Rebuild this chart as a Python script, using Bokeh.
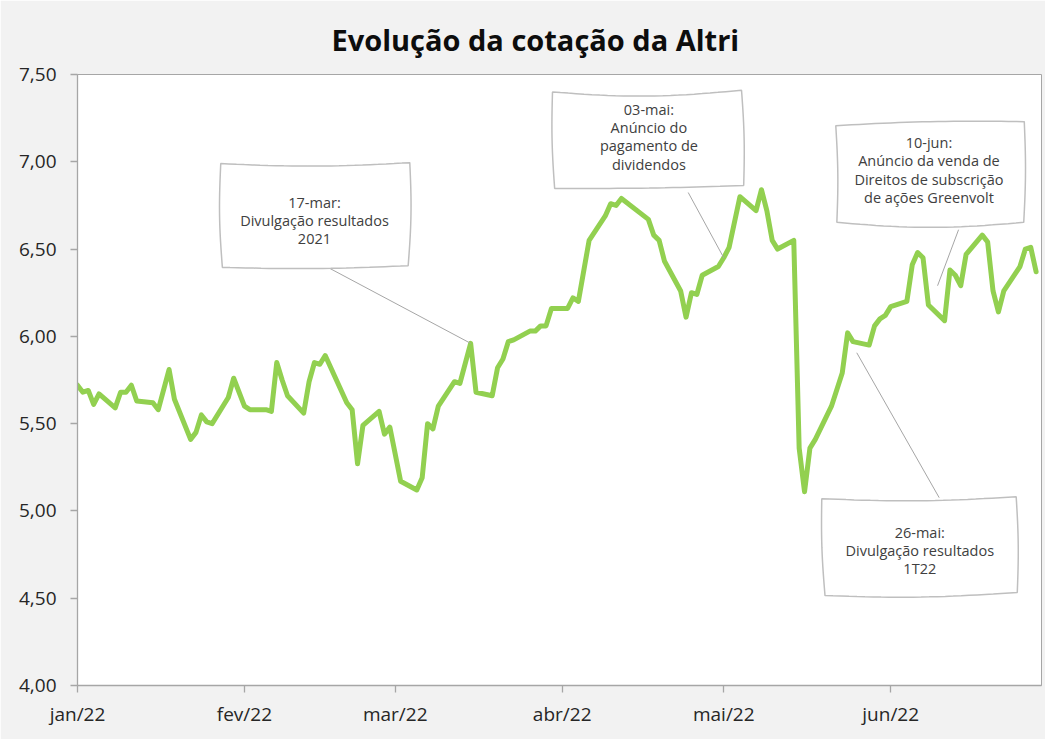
import datetime as dt
import math
import pandas as pd
from bokeh.plotting import figure
from bokeh.models import FixedTicker, CustomJSTickFormatter, Range1d, ColumnDataSource
from bokeh.embed import file_html
from bokeh.resources import INLINE
from bokeh.core.properties import value

# ---------------- data ----------------
dates = [
    "2022-01-03", "2022-01-04", "2022-01-05", "2022-01-06", "2022-01-07", "2022-01-10",
    "2022-01-11", "2022-01-12", "2022-01-13", "2022-01-14", "2022-01-17", "2022-01-18",
    "2022-01-20", "2022-01-21", "2022-01-24", "2022-01-25", "2022-01-26", "2022-01-27",
    "2022-01-28", "2022-01-31", "2022-02-01", "2022-02-03", "2022-02-04", "2022-02-07",
    "2022-02-08", "2022-02-09", "2022-02-10", "2022-02-11", "2022-02-14", "2022-02-15",
    "2022-02-16", "2022-02-17", "2022-02-18", "2022-02-22", "2022-02-23", "2022-02-24",
    "2022-02-25", "2022-02-28", "2022-03-01", "2022-03-02", "2022-03-04", "2022-03-07",
    "2022-03-08", "2022-03-09", "2022-03-10", "2022-03-11", "2022-03-14", "2022-03-15",
    "2022-03-17", "2022-03-18", "2022-03-21", "2022-03-22", "2022-03-23", "2022-03-24",
    "2022-03-25", "2022-03-28", "2022-03-29", "2022-03-30", "2022-03-31", "2022-04-01",
    "2022-04-04", "2022-04-05", "2022-04-06", "2022-04-08", "2022-04-11", "2022-04-12",
    "2022-04-13", "2022-04-14", "2022-04-19", "2022-04-20", "2022-04-21", "2022-04-22",
    "2022-04-25", "2022-04-26", "2022-04-27", "2022-04-28", "2022-04-29", "2022-05-02",
    "2022-05-03", "2022-05-04", "2022-05-06", "2022-05-09", "2022-05-10", "2022-05-11",
    "2022-05-12", "2022-05-13", "2022-05-16", "2022-05-17", "2022-05-18", "2022-05-19",
    "2022-05-20", "2022-05-23", "2022-05-25", "2022-05-26", "2022-05-27", "2022-05-30",
    "2022-05-31", "2022-06-01", "2022-06-02", "2022-06-03", "2022-06-06", "2022-06-07",
    "2022-06-08", "2022-06-09", "2022-06-10", "2022-06-13", "2022-06-14", "2022-06-15",
    "2022-06-16", "2022-06-17", "2022-06-20", "2022-06-21", "2022-06-22", "2022-06-23",
    "2022-06-24", "2022-06-27", "2022-06-28", "2022-06-29", "2022-06-30",
]
close = [
    5.72, 5.68, 5.69, 5.61, 5.67, 5.59,
    5.68, 5.68, 5.72, 5.63, 5.62, 5.58,
    5.81, 5.64, 5.41, 5.45, 5.55, 5.51,
    5.50, 5.65, 5.76, 5.60, 5.58, 5.58,
    5.57, 5.85, 5.75, 5.66, 5.56, 5.74,
    5.85, 5.84, 5.89, 5.62, 5.58, 5.27,
    5.49, 5.57, 5.44, 5.48, 5.17, 5.12,
    5.19, 5.50, 5.47, 5.60, 5.74, 5.73,
    5.96, 5.68, 5.66, 5.82, 5.87, 5.97,
    5.98, 6.03, 6.03, 6.06, 6.06, 6.16,
    6.16, 6.22, 6.20, 6.55, 6.69, 6.76,
    6.75, 6.79, 6.67, 6.58, 6.55, 6.43,
    6.26, 6.11, 6.25, 6.24, 6.35, 6.40,
    6.45, 6.51, 6.80, 6.72, 6.84, 6.72,
    6.55, 6.50, 6.55, 5.36, 5.11, 5.36,
    5.41, 5.60, 5.79, 6.02, 5.97, 5.95,
    6.06, 6.10, 6.12, 6.17, 6.20, 6.41,
    6.48, 6.45, 6.18, 6.09, 6.38, 6.35,
    6.29, 6.47, 6.58, 6.54, 6.26, 6.14,
    6.26, 6.40, 6.50, 6.51, 6.37,
]
month_ticks = ["2022-01-03", "2022-02-03", "2022-03-03", "2022-04-03", "2022-05-03", "2022-06-03"]
month_names = ["jan", "fev", "mar", "abr", "mai", "jun", "jul", "ago", "set", "out", "nov", "dez"]
y_ticks = [4.0, 4.5, 5.0, 5.5, 6.0, 6.5, 7.0, 7.5]
title_text = "Evolução da cotação da Altri"

callout_texts = [
    "17-mar:\nDivulgação resultados\n2021",
    "03-mai:\nAnúncio do\npagamento de\ndividendos",
    "10-jun:\nAnúncio da venda de\nDireitos de subscrição\nde ações Greenvolt",
    "26-mai:\nDivulgação resultados\n1T22",
]
callout_dates = ["2022-03-17", "2022-05-03", "2022-06-10", "2022-05-26"]

# ---------------- helpers ----------------
EPOCH = dt.datetime(1970, 1, 1)
DAY_MS = 86400000.0


def to_ms(s):
    return (dt.datetime.fromisoformat(s) - EPOCH).total_seconds() * 1000.0


X0 = to_ms("2022-01-03")
X1 = to_ms("2022-07-01")
Y0, Y1 = 4.0, 7.5

W, H = 1045, 739
BL, BR, BT, BB = 77, 4, 74, 54
FW = W - BL - BR
FH = H - BT - BB
PX_DAY = FW / ((X1 - X0) / DAY_MS)
PX_VAL = FH / (Y1 - Y0)


def dx(d):  # day offset -> ms
    return X0 + d * DAY_MS


# callout geometry (day offset from 3-jan, price value) + edge bulges in px
callout_geo = [
    dict(c=[(26.6, 6.99), (61.7, 6.995), (61.4, 6.405), (26.9, 6.395)], b=(3, 2, 2, 2),
         t=(44.0, 6.664), tail=(46.8, 6.39), tip=None),
    dict(c=[(88.2, 7.40), (123.3, 7.41), (123.7, 6.864), (88.6, 6.847)], b=(5, 1.5, 1, 1.5),
         t=(106.1, 7.144), tail=(113.4, 6.824), tip=None),
    dict(c=[(140.8, 7.207), (175.8, 7.23), (175.7, 6.653), (141.0, 6.653)], b=(-2, 1.5, 5, -1.5),
         t=(158.1, 6.953), tail=(163.6, 6.611), tip=(159.7, 6.29)),
    dict(c=[(138.2, 5.07), (174.3, 5.081), (174.5, 4.533), (138.8, 4.515)], b=(3, 1.5, 3, 1.5),
         t=(156.4, 4.773), tail=(160.0, 5.076), tip=(144.7, 5.906)),
]


def wavy(corners, bulge, n=24):
    xs, ys = [], []
    top, right, bottom, left = bulge
    edges = [
        (corners[0], corners[1], 0.0, -top),
        (corners[1], corners[2], right, 0.0),
        (corners[2], corners[3], 0.0, -bottom),
        (corners[3], corners[0], -left, 0.0),
    ]
    for (a, b, bx, by) in edges:
        for i in range(n):
            t = i / n
            s = math.sin(math.pi * t)
            d = a[0] + (b[0] - a[0]) * t + bx * s / PX_DAY
            v = a[1] + (b[1] - a[1]) * t + by * s / PX_VAL
            xs.append(dx(d))
            ys.append(v)
    return xs, ys


# ---------------- figure ----------------
p = figure(width=W, height=H, x_axis_type="datetime", output_backend="svg",
           toolbar_location=None, x_range=Range1d(X0, X1), y_range=Range1d(Y0, Y1),
           min_border_left=BL, min_border_right=BR, min_border_top=BT, min_border_bottom=BB,
           title=title_text)
p.border_fill_color = "#F2F2F2"
p.background_fill_color = "#FFFFFF"
p.outline_line_color = "#A6A6A6"
p.outline_line_width = 1
p.xgrid.visible = False
p.ygrid.visible = False

p.title.align = "left"
p.title.offset = 254
p.title.standoff = 32
p.title.text_font = "Open Sans"
p.title.text_font_size = "29px"
p.title.text_font_style = "bold"
p.title.text_color = "#0D0D0D"

p.xaxis.ticker = FixedTicker(ticks=[to_ms(d) for d in month_ticks])
p.xaxis.formatter = CustomJSTickFormatter(
    args=dict(names=month_names),
    code="const d = new Date(tick); return names[d.getUTCMonth()] + '/' + String(d.getUTCFullYear()).slice(2);")
p.yaxis.ticker = FixedTicker(ticks=y_ticks)
p.yaxis.formatter = CustomJSTickFormatter(code="return tick.toFixed(2).replace('.', ',');")
for ax in (p.xaxis[0], p.yaxis[0]):
    ax.axis_line_color = "#A6A6A6"
    ax.axis_line_width = 1.3
    ax.major_tick_line_color = "#A6A6A6"
    ax.major_tick_line_width = 1.3
    ax.major_tick_in = 0
    ax.major_tick_out = 7
    ax.minor_tick_line_color = None
    ax.major_label_text_font = "Open Sans"
    ax.major_label_text_font_size = "19px"
    ax.major_label_text_color = "#262626"
p.yaxis.major_label_standoff = 14
p.xaxis.major_label_standoff = 8

src = ColumnDataSource(dict(date=pd.to_datetime(dates), close=close))
p.line("date", "close", source=src, line_color="#92D050", line_width=5, line_join="round", line_cap="round")

price_by_date = dict(zip(dates, close))
for txt, geo, cd in zip(callout_texts, callout_geo, callout_dates):
    if geo["tip"] is None:
        tip_x, tip_y = to_ms(cd), price_by_date[cd]
    else:
        tip_x, tip_y = dx(geo["tip"][0]), geo["tip"][1]
    p.line([dx(geo["tail"][0]), tip_x], [geo["tail"][1], tip_y], line_color="#A6A6A6", line_width=1)
    xs, ys = wavy(geo["c"], geo["b"])
    p.patch(xs, ys, fill_color="#FFFFFF", line_color="#BFBFBF", line_width=1.5)
    p.text(x=[dx(geo["t"][0])], y=[geo["t"][1]], text=[txt], text_align="center",
           text_baseline="middle", text_font=value("Open Sans"), text_font_size="14.5px",
           text_color="#404040", text_line_height=0.97)

open("out.html", "w").write(file_html(p, INLINE))
